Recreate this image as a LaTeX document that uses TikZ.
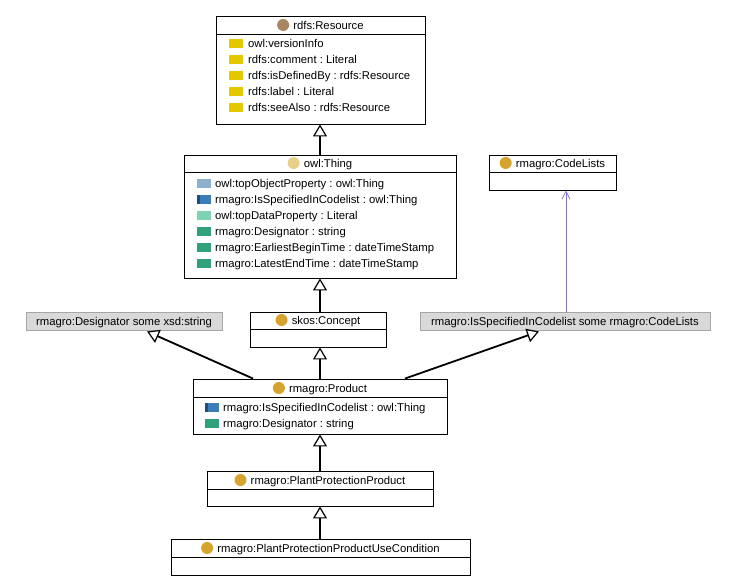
\documentclass[tikz,border=0pt]{standalone}
\usepackage{fontspec}
\setmainfont{Liberation Sans}
\usetikzlibrary{arrows.meta,calc}
\frenchspacing
\definecolor{propyel}{HTML}{E3C800}
\definecolor{objlight}{HTML}{8DB0CC}
\definecolor{objblue}{HTML}{3A7DB8}
\definecolor{objdark}{HTML}{1E4F7C}
\definecolor{datalight}{HTML}{7ED4B2}
\definecolor{datagreen}{HTML}{2FA27A}
\definecolor{resbrown}{HTML}{A88662}
\definecolor{thingyel}{HTML}{E8D088}
\definecolor{classgold}{HTML}{D6A42C}
\definecolor{restrgray}{HTML}{D9D9D9}
\definecolor{restredge}{HTML}{A6A6A6}
\definecolor{linkblue}{HTML}{7F74D6}
\tikzset{
  classbox/.style={draw=black, line width=0.9pt, fill=white, rectangle, inner sep=0pt},
  restrbox/.style={draw=restredge, line width=0.9pt, fill=restrgray, rectangle, inner sep=0pt, minimum height=18pt},
  txt/.style={inner sep=0pt, anchor=base west, text=black},
  hdr/.style={inner sep=0pt, anchor=base, text=black},
  gen/.style={line width=1.8pt, -{Triangle[open, length=12pt, width=14pt, line width=1.2pt]}},
  link/.style={line width=0.7pt, draw=linkblue, -{Straight Barb[length=8pt, width=8pt, line width=0.7pt]}},
  sep/.style={line width=0.9pt, black}
}
\newcommand{\propicon}[3]{\fill[#3] (#1,#2-4.5) rectangle (#1+14,#2+4.5);}
\begin{document}
\begin{tikzpicture}[x=1pt, y=-1pt, font=\fontsize{11.3}{13}\selectfont]
\useasboundingbox[fill=white] (0,0) rectangle (729,587);

% ---------- rdfs:Resource ----------
\node[classbox, minimum width=209pt, minimum height=108pt] (res) at (320.5,70) {};
\draw[sep] (216,34) -- (425,34);
\node[hdr] (resh) at (328.5,29) {rdfs:Resource};
\fill[resbrown] ($(resh.base west)+(-10,-4)$) circle (6);
\propicon{229}{43}{propyel}
\node[txt] (r1) at (248,47) {owl:versionInfo};
\propicon{229}{59}{propyel}
\node[txt] (r2) at (248,63) {rdfs:comment : Literal};
\propicon{229}{75}{propyel}
\node[txt] (r3) at (248,79) {rdfs:isDefinedBy : rdfs:Resource};
\propicon{229}{91}{propyel}
\node[txt] (r4) at (248,95) {rdfs:label : Literal};
\propicon{229}{107}{propyel}
\node[txt] (r5) at (248,111) {rdfs:seeAlso : rdfs:Resource};

% ---------- owl:Thing ----------
\node[classbox, minimum width=272pt, minimum height=123pt] (thing) at (320,216.5) {};
\draw[sep] (184,172) -- (456,172);
\node[hdr] (thingh) at (328,167) {owl:Thing};
\fill[thingyel] ($(thingh.base west)+(-10,-4)$) circle (6);
\propicon{197}{183}{objlight}
\node[txt] (t1) at (215,187) {owl:topObjectProperty : owl:Thing};
\propicon{197}{199}{objblue}
\fill[objdark] (197,199-4.5) rectangle (200,199+4.5);
\node[txt] (t2) at (215,203) {rmagro:IsSpecifiedInCodelist : owl:Thing};
\propicon{197}{215}{datalight}
\node[txt] (t3) at (215,219) {owl:topDataProperty : Literal};
\propicon{197}{231}{datagreen}
\node[txt] (t4) at (215,235) {rmagro:Designator : string};
\propicon{197}{247}{datagreen}
\node[txt] (t5) at (215,251) {rmagro:EarliestBeginTime : dateTimeStamp};
\propicon{197}{263}{datagreen}
\node[txt] (t6) at (215,267) {rmagro:LatestEndTime : dateTimeStamp};

% ---------- rmagro:CodeLists ----------
\node[classbox, minimum width=127pt, minimum height=35pt] (cl) at (552.5,172.5) {};
\draw[sep] (489,172) -- (616,172);
\node[hdr] (clh) at (560.5,167) {rmagro:CodeLists};
\fill[classgold] ($(clh.base west)+(-10,-4)$) circle (6);

% ---------- restrictions ----------
\node[restrbox, minimum width=196pt] (des) at (124,321) {};
\node[hdr] (desh) at (124,325) {rmagro:Designator some xsd:string};
\node[restrbox, minimum width=290pt] (isspec) at (565,321) {};
\node[hdr] (isspech) at (565,325) {rmagro:IsSpecifiedInCodelist some rmagro:CodeLists};

% ---------- skos:Concept ----------
\node[classbox, minimum width=136pt, minimum height=35pt] (skos) at (318,329.5) {};
\draw[sep] (250,329) -- (386,329);
\node[hdr] (skosh) at (326,324) {skos:Concept};
\fill[classgold] ($(skosh.base west)+(-10,-4)$) circle (6);

% ---------- rmagro:Product ----------
\node[classbox, minimum width=254pt, minimum height=55pt] (prod) at (320,406.5) {};
\draw[sep] (193,397) -- (447,397);
\node[hdr] (prodh) at (328,392) {rmagro:Product};
\fill[classgold] ($(prodh.base west)+(-10,-4)$) circle (6);
\propicon{205}{407}{objblue}
\fill[objdark] (205,407-4.5) rectangle (208,407+4.5);
\node[txt] (p1) at (223,411) {rmagro:IsSpecifiedInCodelist : owl:Thing};
\propicon{205}{423}{datagreen}
\node[txt] (p2) at (223,427) {rmagro:Designator : string};

% ---------- PlantProtectionProduct ----------
\node[classbox, minimum width=226pt, minimum height=35pt] (ppp) at (320,488.5) {};
\draw[sep] (207,489) -- (433,489);
\node[hdr] (ppph) at (328,484) {rmagro:PlantProtectionProduct};
\fill[classgold] ($(ppph.base west)+(-10,-4)$) circle (6);

% ---------- PlantProtectionProductUseCondition ----------
\node[classbox, minimum width=299pt, minimum height=36pt] (pppuc) at (320.5,557) {};
\draw[sep] (171,557) -- (470,557);
\node[hdr] (pppuch) at (328.5,552) {rmagro:PlantProtectionProductUseCondition};
\fill[classgold] ($(pppuch.base west)+(-10,-4)$) circle (6);

% ---------- connectors ----------
\draw[gen] (thing.north) -- (thing.north |- res.south);
\draw[gen] (skos.north -| thing.south) -- (thing.south);
\draw[gen] (prod.north) -- (prod.north |- skos.south);
\draw[gen] ([xshift=-67pt]prod.north) -- ([xshift=23pt,yshift=-1pt]des.south);
\draw[gen] ([xshift=85pt]prod.north) -- ([xshift=-26pt,yshift=-1pt]isspec.south);
\draw[gen] (ppp.north) -- (ppp.north |- prod.south);
\draw[gen] (pppuc.north -| ppp.south) -- (ppp.south);
\draw[link] ([xshift=1pt]isspec.north) -- ([xshift=1pt]isspec.north |- cl.south);
\end{tikzpicture}
\end{document}
